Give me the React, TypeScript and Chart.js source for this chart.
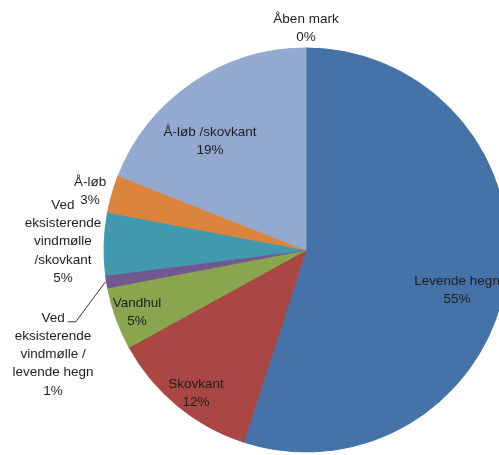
import React, { useEffect, useRef } from 'react';
import { Chart, registerables } from 'chart.js';

Chart.register(...registerables);

const CATEGORIES = [
  'Levende hegn',
  'Skovkant',
  'Vandhul',
  'Ved eksisterende vindmølle / levende hegn',
  'Ved eksisterende vindmølle /skovkant',
  'Å-løb',
  'Å-løb /skovkant',
  'Åben mark',
];
const SHARES = [55, 12, 5, 1, 5, 3, 19, 0];
const COLORS = ['#4572A7', '#AA4643', '#89A54E', '#71588F', '#4198AF', '#DB843D', '#93A9CF', '#A47D7C'];

// label block centre relative to pie centre, in units of radius; wrap width in px
const LABEL_LAYOUT = [
  { dx: 0.748, dy: 0.198, wrap: 200, leader: false },
  { dx: -0.545, dy: 0.708, wrap: 200, leader: false },
  { dx: -0.837, dy: 0.307, wrap: 200, leader: false },
  { dx: -1.252, dy: 0.517, wrap: 88, leader: true },
  { dx: -1.203, dy: -0.042, wrap: 88, leader: false },
  { dx: -1.069, dy: -0.292, wrap: 200, leader: false },
  { dx: -0.475, dy: -0.537, wrap: 200, leader: false },
  { dx: 0, dy: -1.097, wrap: 200, leader: false },
];

const FONT = '13.5px "Liberation Sans", Arial, sans-serif';
const LINE_H = 18.3;

function wrapText(ctx: CanvasRenderingContext2D, text: string, maxW: number): string[] {
  const words = text.split(' ');
  const lines: string[] = [];
  let cur = '';
  for (const w of words) {
    const test = cur ? cur + ' ' + w : w;
    if (cur && ctx.measureText(test).width > maxW) {
      lines.push(cur);
      cur = w;
    } else {
      cur = test;
    }
  }
  if (cur) lines.push(cur);
  return lines;
}

const labelPlugin = {
  id: 'pieLabels',
  afterDatasetsDraw(chart: any) {
    const ctx: CanvasRenderingContext2D = chart.ctx;
    const meta = chart.getDatasetMeta(0);
    const data: number[] = chart.data.datasets[0].data;
    const total = data.reduce((a, b) => a + b, 0);
    ctx.save();
    ctx.font = FONT;
    ctx.fillStyle = '#1e1e1e';
    ctx.textAlign = 'center';
    ctx.textBaseline = 'middle';
    meta.data.forEach((arc: any, i: number) => {
      const { x, y, outerRadius, startAngle, endAngle } = arc.getProps(
        ['x', 'y', 'outerRadius', 'startAngle', 'endAngle'],
        true
      );
      const lay = LABEL_LAYOUT[i];
      const cx = x + lay.dx * outerRadius;
      const cy = y + lay.dy * outerRadius;
      const lines = wrapText(ctx, chart.data.labels[i], lay.wrap);
      lines.push(Math.round((data[i] / total) * 100) + '%');
      const y0 = cy - ((lines.length - 1) * LINE_H) / 2;
      lines.forEach((ln, k) => ctx.fillText(ln, cx, y0 + k * LINE_H));
      if (lay.leader) {
        const mid = (startAngle + endAngle) / 2;
        const ex = x + Math.cos(mid) * (outerRadius + 1);
        const ey = y + Math.sin(mid) * (outerRadius + 1);
        const w0 = ctx.measureText(lines[0]).width;
        const hx0 = cx + w0 / 2 + 3;
        const hx1 = hx0 + 8;
        const hy = y0 + 4;
        ctx.beginPath();
        ctx.strokeStyle = '#333333';
        ctx.lineWidth = 1;
        ctx.moveTo(hx0, hy);
        ctx.lineTo(hx1, hy);
        ctx.lineTo(ex, ey);
        ctx.stroke();
      }
    });
    ctx.restore();
  },
};

export default function App() {
  const ref = useRef<HTMLCanvasElement | null>(null);
  useEffect(() => {
    if (!ref.current) return;
    const chart = new Chart(ref.current, {
      type: 'pie',
      data: {
        labels: CATEGORIES,
        datasets: [
          {
            data: SHARES,
            backgroundColor: COLORS,
            borderColor: COLORS,
            borderWidth: SHARES.map((v) => (v > 0 ? 1 : 0)),
          },
        ],
      },
      options: {
        animation: false,
        responsive: true,
        maintainAspectRatio: false,
        radius: 202,
        layout: { padding: { left: 113, right: 0, top: 45, bottom: 0 } },
        plugins: {
          legend: { display: false },
          tooltip: { enabled: false },
        },
      },
      plugins: [labelPlugin],
    });
    return () => chart.destroy();
  }, []);
  return (
    <div style={{ position: 'fixed', left: 0, top: 0, width: 499, height: 455, background: '#fff' }}>
      <canvas ref={ref} />
    </div>
  );
}
